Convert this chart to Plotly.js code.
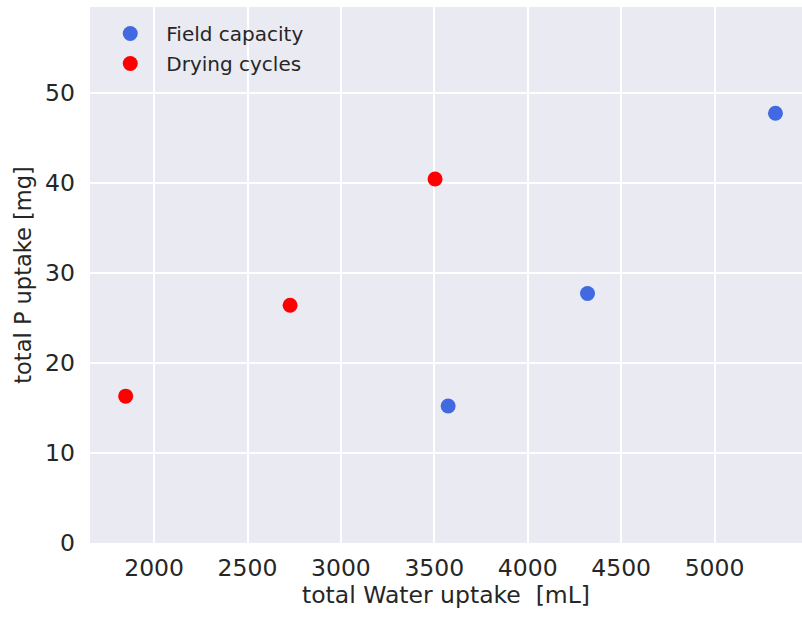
<!DOCTYPE html>
<html>
<head>
<meta charset="utf-8">
<script src="https://cdn.plot.ly/plotly-3.0.1.min.js"></script>
<style>html,body{margin:0;padding:0;background:#fff}#chart{width:802px;height:618px}</style>
</head>
<body>
<div id="chart"></div>
<script>
const fieldWater = [3574, 4320, 5326];
const fieldP = [15.2, 27.7, 47.7];
const dryWater = [1848, 2728, 3504];
const dryP = [16.3, 26.4, 40.4];
const seriesNames = ["Field capacity", "Drying cycles"];
const xTicks = [2000, 2500, 3000, 3500, 4000, 4500, 5000];
const yTicks = [0, 10, 20, 30, 40, 50];

const font = "DejaVu Sans, sans-serif";
const traces = [
  {x: fieldWater, y: fieldP, name: seriesNames[0], type: "scatter", mode: "markers",
   legendgroup: "a", marker: {color: "#4169E1", size: 15}},
  {x: dryWater, y: dryP, name: seriesNames[1], type: "scatter", mode: "markers",
   legendgroup: "b", marker: {color: "#FF0000", size: 15}}
];
const layout = {
  width: 802, height: 618,
  margin: {l: 90, r: 0, t: 7, b: 75},
  paper_bgcolor: "#ffffff", plot_bgcolor: "#EAEAF2",
  font: {family: font, color: "#262626", size: 22},
  showlegend: true,
  legend: {x: 0.006, y: 0.987, xanchor: "left", yanchor: "top", bgcolor: "rgba(0,0,0,0)",
           font: {size: 20, color: "#262626"}, tracegroupgap: 1, traceorder: "grouped",
           itemwidth: 62},
  xaxis: {range: [1657, 5468], tickvals: xTicks, ticks: "", showline: false, zeroline: false,
          gridcolor: "#ffffff", gridwidth: 2, tickfont: {size: 23.5}, ticklabelstandoff: 8,
          title: {text: "total Water uptake  [mL]", font: {size: 23.5}, standoff: 5}},
  yaxis: {range: [0, 59.5], tickvals: yTicks, ticks: "", showline: false, zeroline: false,
          gridcolor: "#ffffff", gridwidth: 2, tickfont: {size: 23.5}, ticklabelstandoff: 14,
          title: {text: "total P uptake [mg]", font: {size: 22.5}, standoff: 7}}
};
Plotly.newPlot("chart", traces, layout, {displayModeBar: false});
</script>
</body>
</html>
